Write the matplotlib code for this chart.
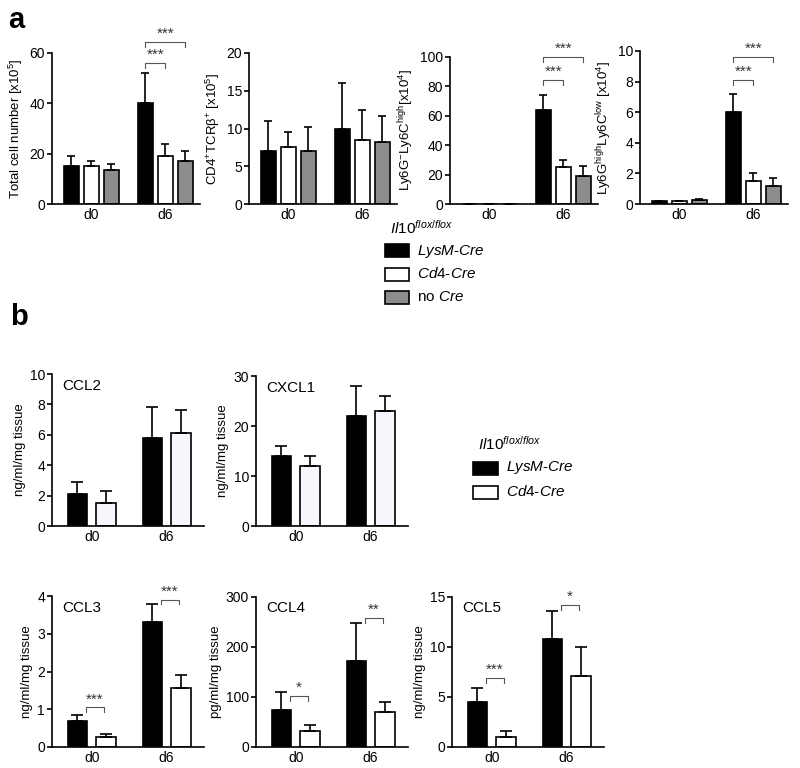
import numpy as np
import matplotlib
matplotlib.use("Agg")
import matplotlib.pyplot as plt
from matplotlib.patches import Rectangle

plt.rcParams["font.family"] = ["Liberation Sans", "DejaVu Sans"]
plt.rcParams["mathtext.fontset"] = "custom"
plt.rcParams["mathtext.rm"] = "Liberation Sans"
plt.rcParams["mathtext.it"] = "Liberation Sans:italic"
plt.rcParams["mathtext.bf"] = "Liberation Sans:bold"

W, H = 800, 768

# ---- data: panel a (LysM-Cre, Cd4-Cre, no Cre) ----
days = ["d0", "d6"]
a_labels = [
    "Total cell number [x10$^{5}$]",
    "CD4$^{+}$TCR\u03b2$^{+}$ [x10$^{5}$]",
    "Ly6G$^{-}$Ly6C$^{\\mathrm{high}}$[x10$^{4}$]",
    "Ly6G$^{\\mathrm{high}}$Ly6C$^{\\mathrm{low}}$ [x10$^{4}$]",
]
a_ymax = [60, 20, 100, 10]
a_ystep = [20, 5, 20, 2]
a_lysm = [[15, 40], [7, 10], [0.3, 64], [0.2, 6]]
a_lysm_err = [[4, 12], [4, 6], [0, 10], [0, 1.2]]
a_cd4 = [[15, 19], [7.5, 8.5], [0.3, 25], [0.2, 1.5]]
a_cd4_err = [[2, 5], [2, 4], [0, 5], [0, 0.5]]
a_nocre = [[13.5, 17], [7, 8.2], [0.3, 19], [0.25, 1.2]]
a_nocre_err = [[2.5, 4], [3.2, 3.5], [0, 7], [0.05, 0.5]]
# significance at d6: (narrow bracket y, wide bracket y)
a_sig = [(56, 64.5), None, (84.5, 100), (8.1, 9.6)]

# ---- data: panel b (LysM-Cre, Cd4-Cre) ----
b_names = ["CCL2", "CXCL1", "CCL3", "CCL4", "CCL5"]
b_units = ["ng/ml/mg tissue", "ng/ml/mg tissue", "ng/ml/mg tissue",
           "pg/ml/mg tissue", "ng/ml/mg tissue"]
b_ymax = [10, 30, 4, 300, 15]
b_ystep = [2, 10, 1, 100, 5]
b_lysm = [[2.1, 5.8], [14, 22], [0.7, 3.32], [75, 173], [4.5, 10.8]]
b_lysm_err = [[0.8, 2.0], [2, 6], [0.15, 0.47], [35, 75], [1.4, 2.8]]
b_cd4 = [[1.5, 6.1], [12, 23], [0.27, 1.57], [33, 71], [1.0, 7.1]]
b_cd4_err = [[0.8, 1.5], [2, 3], [0.07, 0.35], [12, 20], [0.6, 2.9]]
b_sig = [None, None,
         [("***", 1.05), ("***", 3.9)],
         [("*", 102), ("**", 258)],
         [("***", 6.9), ("*", 14.2)]]

BLACK, WHITE, GRAY = "black", "white", "#8c8c8c"


def box(l, t, r, b):
    return [l / W, 1 - b / H, (r - l) / W, (b - t) / H]


def style(ax, ymax, step, xlim):
    ax.set_ylim(0, ymax)
    ax.set_yticks(np.arange(0, ymax + step / 2, step))
    ax.set_xlim(*xlim)
    ax.set_xticks([0, 1])
    ax.set_xticklabels(days, fontsize=10)
    ax.spines["top"].set_visible(False)
    ax.spines["right"].set_visible(False)
    for s in ("left", "bottom"):
        ax.spines[s].set_linewidth(1.2)
    ax.tick_params(axis="y", length=3.5, width=1.2, labelsize=10, pad=1.5)
    ax.tick_params(axis="x", length=0, pad=3)


def bracket(ax, x1, x2, y, txt, h):
    ax.plot([x1, x1, x2, x2], [y - h, y, y, y - h], color="#555555",
            lw=0.8, clip_on=False)
    ax.text((x1 + x2) / 2, y + h * 0.2, txt, ha="center", va="bottom",
            fontsize=11, color="#333333", clip_on=False)


fig = plt.figure(figsize=(W / 100, H / 100), dpi=100)

# ---- panel a ----
a_left = [52, 249, 450, 640]
a_top = [53, 53, 57, 51]
x = np.arange(2)
off, bw = 0.27, 0.2
for i in range(4):
    ax = fig.add_axes(box(a_left[i], a_top[i], a_left[i] + 148, 204))
    series = [(a_lysm[i], a_lysm_err[i], BLACK),
              (a_cd4[i], a_cd4_err[i], WHITE),
              (a_nocre[i], a_nocre_err[i], GRAY)]
    for k, (vals, errs, col) in enumerate(series):
        pos = x + (k - 1) * off
        ax.bar(pos, vals, bw, color=col, edgecolor="black", linewidth=1.2,
               zorder=2)
        ax.errorbar(pos, vals, yerr=[np.zeros(2), errs], fmt="none",
                    ecolor="black", elinewidth=1.2, capsize=3, capthick=1.2,
                    zorder=3)
    style(ax, a_ymax[i], a_ystep[i], (-0.53, 1.47))
    ax.set_ylabel(a_labels[i], fontsize=9.5, labelpad=3)
    if a_sig[i]:
        h = a_ymax[i] * 0.035
        bracket(ax, 1 - off, 1.0, a_sig[i][0], "***", h)
        bracket(ax, 1 - off, 1 + off, a_sig[i][1], "***", h)

fig.text(8 / W, 1 - 28 / H, "a", fontsize=21, fontweight="bold")
fig.text(10 / W, 1 - 325 / H, "b", fontsize=21, fontweight="bold")

# ---- panel b ----
b_box = [(52, 374, 526), (256, 376, 526), (52, 596, 747),
         (256, 597, 747), (452, 597, 747)]
offb, bwb = 0.19, 0.26
for i in range(5):
    l, t, b = b_box[i]
    ax = fig.add_axes(box(l, t, l + 152, b))
    wcol = "#f5f7fd" if i < 2 else WHITE
    for k, (vals, errs, col) in enumerate([(b_lysm[i], b_lysm_err[i], BLACK),
                                           (b_cd4[i], b_cd4_err[i], wcol)]):
        pos = x + (k - 0.5) * 2 * offb
        ax.bar(pos, vals, bwb, color=col, edgecolor="black", linewidth=1.2,
               zorder=2)
        ax.errorbar(pos, vals, yerr=[np.zeros(2), errs], fmt="none",
                    ecolor="black", elinewidth=1.2, capsize=4.2, capthick=1.2,
                    zorder=3)
    style(ax, b_ymax[i], b_ystep[i], (-0.53, 1.5))
    ax.set_ylabel(b_units[i], fontsize=9.5, labelpad=3)
    ax.text(0.07, 0.97, b_names[i], transform=ax.transAxes, fontsize=11,
            va="top", ha="left")
    if b_sig[i]:
        h = b_ymax[i] * 0.03
        for g, (txt, yv) in enumerate(b_sig[i]):
            bracket(ax, g - 0.07, g + 0.16, yv, txt, h)


def legend(x0, y0, title, entries, pw, ph, gap):
    fig.text(x0 + 5 / W, 1 - y0 / H, title, fontsize=11, va="center")
    for j, (lab, col) in enumerate(entries):
        yc = y0 + (j + 1) * gap
        fig.add_artist(Rectangle((x0, 1 - (yc + ph / 2) / H), pw / W, ph / H,
                                 facecolor=col, edgecolor="black",
                                 linewidth=1.2, transform=fig.transFigure))
        fig.text(x0 + (pw + 8) / W, 1 - yc / H, lab, fontsize=11,
                 va="center")


title = "$\\mathit{Il10}^{\\mathit{flox/flox}}$"
legend(385 / W, 228, title,
       [("$\\mathit{LysM}$-$\\mathit{Cre}$", BLACK),
        ("$\\mathit{Cd4}$-$\\mathit{Cre}$", WHITE),
        ("no $\\mathit{Cre}$", GRAY)], 24, 13, 23)
legend(473 / W, 444, title,
       [("$\\mathit{LysM}$-$\\mathit{Cre}$", BLACK),
        ("$\\mathit{Cd4}$-$\\mathit{Cre}$", WHITE)], 25, 13, 24)

fig.savefig("out.png", dpi=100)
